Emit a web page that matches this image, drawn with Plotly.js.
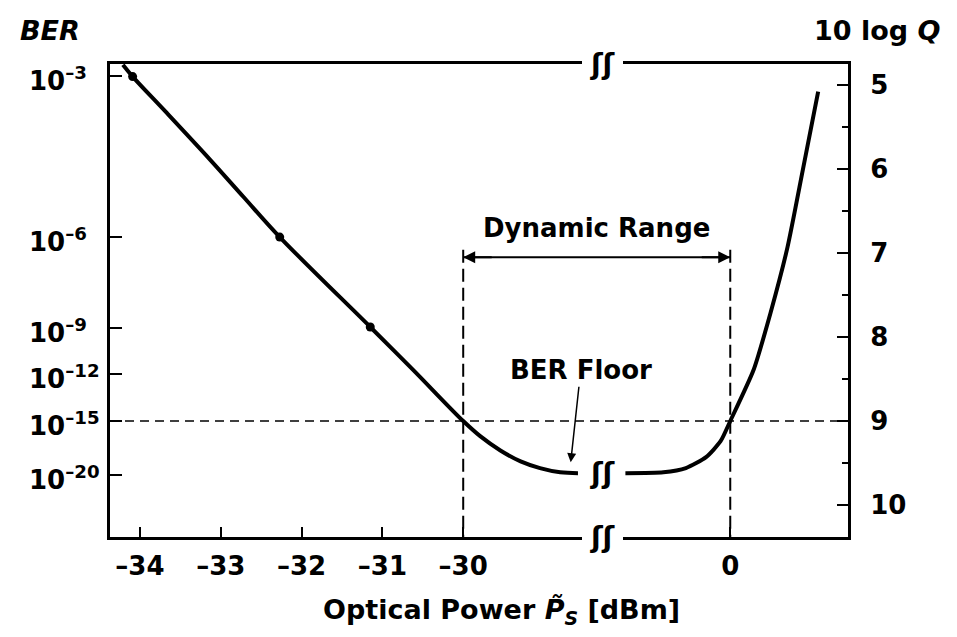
<!DOCTYPE html>
<html><head><meta charset="utf-8">
<script src="https://cdn.plot.ly/plotly-3.0.1.min.js"></script>
<style>body{margin:0;background:#fff}#chart{width:957px;height:637px}</style>
</head><body><div id="chart"></div>
<script>
// Left branch (low optical power), x in dBm, y in 10 log Q
const lowPower = [-34.21, -34.09, -33.67, -33.13, -32.72, -32.27, -31.15, -30.62, -30.0, -29.79, -29.54, -29.29, -29.05, -28.80, -28.58];
const lowQdB   = [4.76, 4.90, 5.33, 5.89, 6.33, 6.81, 7.88, 8.39, 9.0, 9.18, 9.35, 9.48, 9.56, 9.61, 9.62];
// Right branch (high optical power)
const highPower = [-1.30, -0.83, -0.55, -0.30, -0.12, 0.0, 0.29, 0.50, 0.71, 0.90, 1.09];
const highQdB   = [9.62, 9.61, 9.56, 9.43, 9.24, 9.0, 8.39, 7.71, 6.93, 6.01, 5.08];
// measured points (dots)
const dotPower = [-34.09, -32.27, -31.15];
const dotQdB   = [4.90, 6.81, 7.88];
// ticks
const lowTicks = [-34, -33, -32, -31, -30];
const lowTickText = ['–34', '–33', '–32', '–31', '–30'];
const highTicks = [0];
const highTickText = ['0'];
const qTicks = [5, 6, 7, 8, 9, 10];
const berExp = ['–3', '–6', '–9', '–12', '–15', '–20'];
const berQdB = [4.89, 6.81, 7.89, 8.44, 9.0, 9.64];
// dynamic range
const refQdB = 9.0;          // BER 1e-15
const dynLow = -30, dynHigh = 0;
const dynArrowQdB = 7.05;
const dynTopQdB = 6.96;
const floorQdB = 9.62;

const F = 'DejaVu Sans';
const xr1 = [-34.37, -28.53], xd1 = [0, 0.6396];
const xr2 = [-1.33, 1.46],    xd2 = [0.6951, 1];
const yr = [10.38, 4.75];
function p1(v){ return xd1[0] + (v - xr1[0])/(xr1[1]-xr1[0])*(xd1[1]-xd1[0]); }
function p2(v){ return xd2[0] + (v - xr2[0])/(xr2[1]-xr2[0])*(xd2[1]-xd2[0]); }
function py(v){ return (v - yr[0])/(yr[1]-yr[0]); }

const traces = [
  {x: lowPower, y: lowQdB, xaxis:'x', yaxis:'y', mode:'lines', line:{color:'#000', width:4, shape:'spline', smoothing:1}, hoverinfo:'skip'},
  {x: dotPower, y: dotQdB, xaxis:'x', yaxis:'y', mode:'markers', marker:{color:'#000', size:9}, hoverinfo:'skip'},
  {x: highPower, y: highQdB, xaxis:'x2', yaxis:'y2', mode:'lines', line:{color:'#000', width:4, shape:'spline', smoothing:0.6}, hoverinfo:'skip'}
];

const axFont = {family:F, size:26, color:'#000', weight:'bold'};
const xCommon = {showline:true, linewidth:3, linecolor:'#000', mirror:true, ticks:'inside', ticklen:10, tickwidth:2,
  tickcolor:'#000', showgrid:false, zeroline:false, tickfont:axFont, ticklabelstandoff:4, fixedrange:true};

const annotations = [];
berExp.forEach((e, i) => {
  annotations.push({xref:'paper', yref:'y', x:(27-110)/738, y:berQdB[i], xanchor:'left', yanchor:'middle', yshift:-3,
    text:'10<sup>' + e + '</sup>', showarrow:false, font:axFont});
});
const titleFont = {family:F, size:27, color:'#000', weight:'bold'};
annotations.push({xref:'paper', yref:'paper', x:(49.5-110)/738, y:(537-30)/473, xanchor:'center', yanchor:'middle',
  text:'<i>BER</i>', showarrow:false, font:titleFont});
annotations.push({xref:'paper', yref:'paper', x:(877-110)/738, y:(537-30)/473, xanchor:'center', yanchor:'middle',
  text:'10 log <i>Q</i>', showarrow:false, font:titleFont});
annotations.push({xref:'paper', yref:'paper', x:(501-110)/738, y:(537-611)/473, xanchor:'center', yanchor:'middle',
  text:'Optical Power <i>P\u0303</i><sub><i>S</i></sub> [dBm]', showarrow:false, font:titleFont});
annotations.push({xref:'paper', yref:'y', x:(p1(dynLow)+p2(dynHigh))/2, y:6.70, xanchor:'center', yanchor:'middle',
  text:'Dynamic Range', showarrow:false, font:{family:F, size:26, color:'#000', weight:'bold'}});
annotations.push({xref:'x', yref:'y', x:-28.67, y:9.49, ax:10, ay:-92, text:'BER Floor', showarrow:true,
  arrowhead:2, arrowsize:1.2, arrowwidth:1.5, arrowcolor:'#000', standoff:0,
  font:{family:F, size:26, color:'#000', weight:'bold'}});
// arrow heads of dynamic range
annotations.push({xref:'x', yref:'y', x:dynLow, y:dynArrowQdB, ax:30, ay:0, text:'', showarrow:true, arrowhead:2,
  arrowsize:1.2, arrowwidth:2, arrowcolor:'#000', standoff:0});
annotations.push({xref:'x2', yref:'y2', x:dynHigh, y:dynArrowQdB, ax:-30, ay:0, text:'', showarrow:true, arrowhead:2,
  arrowsize:1.2, arrowwidth:2, arrowcolor:'#000', standoff:0});
// axis break symbols
const brk = (xp, yp) => ({xref:'paper', yref:'paper', x:xp, y:yp, xanchor:'center', yanchor:'middle', text:'ʃʃ',
  showarrow:false, font:{family:F, size:28, color:'#000', weight:'bold'}});
const brkX = ((582+623)/2 - 110)/738;
annotations.push(brk(brkX, 1));
annotations.push(brk(brkX, 0));
annotations.push(brk(brkX, py(floorQdB)));

const shapes = [
  {type:'line', xref:'paper', yref:'y', x0:0, x1:1, y0:refQdB, y1:refQdB, line:{color:'#000', width:1.5, dash:'9px,6px'}},
  {type:'line', xref:'x', yref:'y', x0:dynLow, x1:dynLow, y0:dynTopQdB, y1:yr[0], line:{color:'#000', width:2, dash:'13px,6px'}},
  {type:'line', xref:'x2', yref:'y2', x0:dynHigh, x1:dynHigh, y0:dynTopQdB, y1:yr[0], line:{color:'#000', width:2, dash:'13px,6px'}},
  {type:'line', xref:'paper', yref:'y', x0:p1(dynLow), x1:p2(dynHigh), y0:dynArrowQdB, y1:dynArrowQdB, line:{color:'#000', width:2}}
];

const layout = {
  width:957, height:637, margin:{l:110, r:109, t:64, b:100},
  paper_bgcolor:'#fff', plot_bgcolor:'#fff', showlegend:false,
  font:{family:F, color:'#000'},
  xaxis: Object.assign({}, xCommon, {domain:xd1, range:xr1, tickvals:lowTicks, ticktext:lowTickText, anchor:'y'}),
  xaxis2: Object.assign({}, xCommon, {domain:xd2, range:xr2, tickvals:highTicks, ticktext:highTickText, anchor:'y2'}),
  yaxis: {range:yr, anchor:'x', side:'left', showline:true, linewidth:3, linecolor:'#000', ticks:'inside', ticklen:12,
    tickwidth:2, tickcolor:'#000', tickvals:berQdB, showticklabels:false, showgrid:false, zeroline:false, fixedrange:true},
  yaxis2: {range:yr, anchor:'x2', side:'right', showline:true, linewidth:3, linecolor:'#000', ticks:'inside', ticklen:11,
    tickwidth:2, tickcolor:'#000', tickvals:qTicks, tickfont:axFont, ticklabelstandoff:14, showgrid:false, zeroline:false,
    minor:{dtick:0.5, ticks:'inside', ticklen:6, tickwidth:1.5, tickcolor:'#000'}, fixedrange:true},
  shapes: shapes, annotations: annotations
};
Plotly.newPlot('chart', traces, layout, {displayModeBar:false, staticPlot:true});
</script></body></html>
